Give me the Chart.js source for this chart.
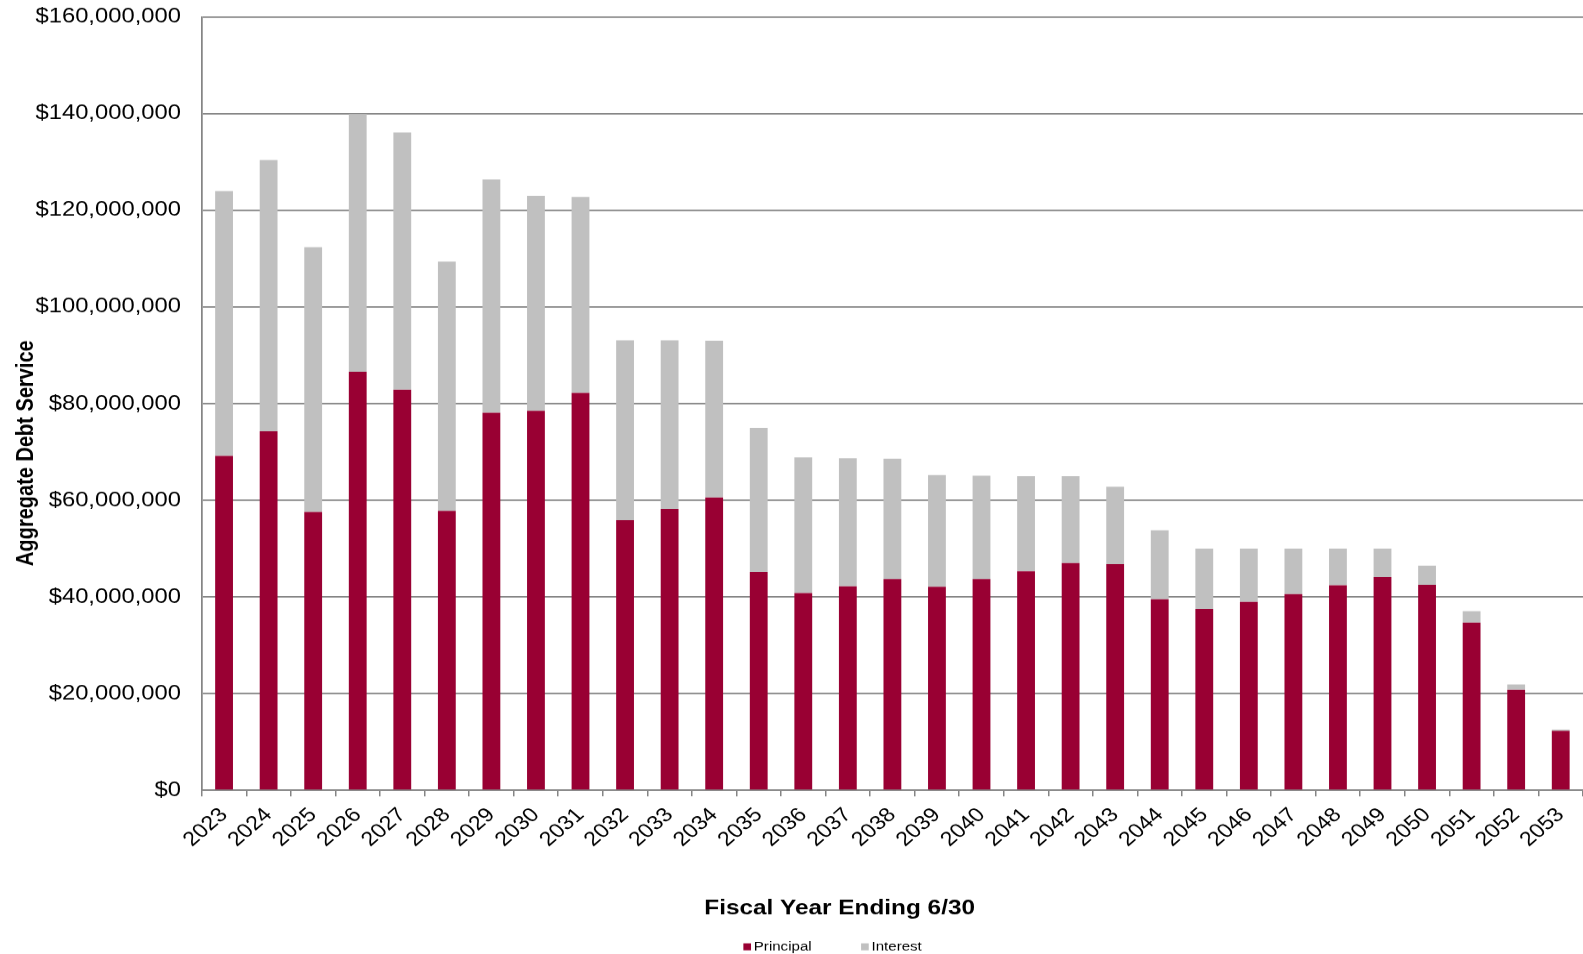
<!DOCTYPE html>
<html>
<head>
<meta charset="utf-8">
<script src="https://cdn.jsdelivr.net/npm/chart.js@4"></script>
<style>
  html, body { margin: 0; padding: 0; background: #fff; }
</style>
</head>
<body>
<!-- drawn at 1365 wide and shown at 1583: the original picture is stretched sideways -->
<canvas id="chart" width="1365" height="954" style="width:1583px;height:954px;display:block"></canvas>
<script>
var years = ['2023', '2024', '2025', '2026', '2027', '2028', '2029', '2030', '2031', '2032',
    '2033', '2034', '2035', '2036', '2037', '2038', '2039', '2040', '2041', '2042',
    '2043', '2044', '2045', '2046', '2047', '2048', '2049', '2050', '2051', '2052', '2053'];

// millions of dollars
var principal = [69.2, 74.3, 57.6, 86.6, 82.9, 57.8, 78.1, 78.5, 82.2, 55.9,
    58.2, 60.6, 45.2, 40.8, 42.2, 43.7, 42.1, 43.7, 45.3, 47.0,
    46.8, 39.5, 37.5, 39.0, 40.6, 42.4, 44.1, 42.5, 34.7, 20.8, 12.3];
var interest = [54.8, 56.1, 54.8, 53.3, 53.2, 51.6, 48.3, 44.5, 40.6, 37.2,
    34.9, 32.4, 29.8, 28.1, 26.5, 24.9, 23.1, 21.4, 19.7, 18.0,
    16.0, 14.3, 12.5, 11.0, 9.4, 7.6, 5.9, 4.0, 2.35, 1.1, 0.25];

var yTicks = { min: 0, max: 160000000, step: 20000000 };

var xTitle = 'Fiscal Year Ending 6/30';
var yTitle = 'Aggregate Debt Service';

var stretch = 1583 / 1365;
var gridColor = '#858585';

function dollars(v) {
    return '$' + Math.round(v).toLocaleString('en-US');
}

function toDollars(arr) {
    return arr.map(function(v) { return v * 1000000; });
}

// axis titles and legend are placed where the original has them
var extrasPlugin = {
    id: 'extras',
    afterDraw: function(chart) {
        var ctx = chart.ctx;
        ctx.save();
        ctx.fillStyle = '#000';

        ctx.font = 'bold 20px "Liberation Sans", Arial, sans-serif';
        ctx.textAlign = 'center';
        ctx.textBaseline = 'alphabetic';
        ctx.save();
        ctx.translate(28.5, 453);
        ctx.rotate(-Math.PI / 2);
        ctx.fillText(yTitle, 0, 0);
        ctx.restore();

        ctx.font = 'bold 21px "Liberation Sans", Arial, sans-serif';
        ctx.fillText(xTitle, 724, 914);

        // legend
        ctx.font = '13px "Liberation Sans", Arial, sans-serif';
        ctx.textAlign = 'left';
        var x = 641;
        chart.data.datasets.forEach(function(ds) {
            ctx.fillStyle = ds.backgroundColor;
            ctx.fillRect(x, 943, 6.6, 7);
            ctx.fillStyle = '#000';
            ctx.fillText(ds.label, x + 9, 950.5);
            x += 101.5;
        });
        ctx.restore();
    }
};

new Chart(document.getElementById('chart'), {
    type: 'bar',
    data: {
        labels: years,
        datasets: [
            { label: 'Principal', data: toDollars(principal), backgroundColor: '#990033' },
            { label: 'Interest', data: toDollars(interest), backgroundColor: '#C0C0C0' }
        ]
    },
    options: {
        responsive: false,
        animation: false,
        devicePixelRatio: stretch,
        layout: { padding: { top: 17, right: 0, bottom: 0, left: 0 } },
        datasets: { bar: { barPercentage: 0.4, categoryPercentage: 1.0 } },
        plugins: {
            legend: { display: false },
            tooltip: { enabled: false }
        },
        scales: {
            x: {
                stacked: true,
                afterFit: function(s) {
                    s.height = 164;
                    s.paddingRight = 0;   // plot runs to the right edge
                },
                grid: { display: true, drawOnChartArea: false, drawTicks: true, tickLength: 6, color: gridColor, lineWidth: 1.3, offset: true },
                border: { display: true, color: gridColor, width: 1.5 },
                ticks: {
                    autoSkip: false, minRotation: 45, maxRotation: 45, padding: 7,
                    color: '#000',
                    font: { family: '"Liberation Sans", Arial, sans-serif', size: 20 }
                }
            },
            y: {
                stacked: true,
                min: yTicks.min,
                max: yTicks.max,
                afterFit: function(s) { s.width = 174; },
                // invisible tick marks keep the labels clear of the axis
                grid: { color: gridColor, lineWidth: 1.5, drawTicks: true, tickLength: 15, tickColor: 'rgba(0,0,0,0)' },
                border: { display: true, color: gridColor, width: 1.5 },
                ticks: {
                    stepSize: yTicks.step, padding: 3, color: '#000',
                    font: { family: '"Liberation Sans", Arial, sans-serif', size: 20.5 },
                    callback: function(v) { return dollars(v); }
                }
            }
        }
    },
    plugins: [extrasPlugin]
});
</script>
</body>
</html>
